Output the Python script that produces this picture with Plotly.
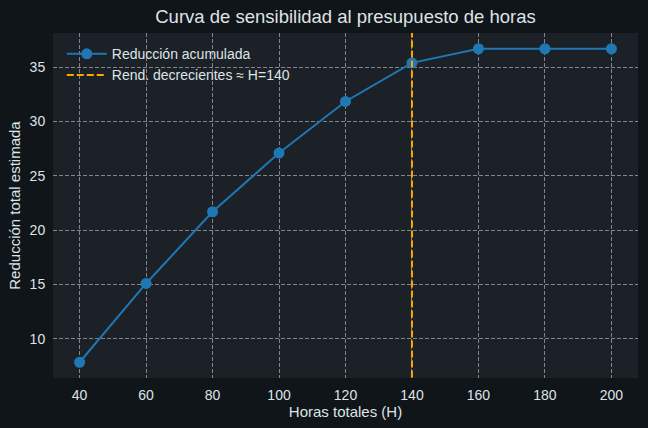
import plotly.graph_objects as go

horas = [40, 60, 80, 100, 120, 140, 160, 180, 200]
reduccion = [7.85, 15.1, 21.7, 27.1, 31.85, 35.4, 36.7, 36.7, 36.7]
h_codo = 140
x_ticks = [40, 60, 80, 100, 120, 140, 160, 180, 200]
y_ticks = [10, 15, 20, 25, 30, 35]

paper_bg = "#0f1519"
plot_bg = "#1b2127"
text_c = "#dfe3e6"
grid_c = "#80868b"
font = "Liberation Sans, Arial, sans-serif"

fig = go.Figure()
fig.add_trace(go.Scatter(
    x=horas, y=reduccion, mode="lines+markers", name="Reducción acumulada",
    line=dict(color="#1f77b4", width=2), marker=dict(size=11, color="#1f77b4"),
))
fig.add_trace(go.Scatter(
    x=[h_codo, h_codo], y=[0, 100], mode="lines", name="Rend. decrecientes ≈ H=140",
    line=dict(color="#ffa500", width=2, dash="7px,3px"),
))

fig.update_layout(
    width=648, height=428,
    margin=dict(l=53, r=10, t=33, b=50),
    paper_bgcolor=paper_bg, plot_bgcolor=plot_bg,
    font=dict(family=font, color=text_c, size=14),
    title=dict(text="Curva de sensibilidad al presupuesto de horas", x=0.5, xanchor="center",
               xref="paper", y=1 - 17 / 428, yanchor="middle",
               font=dict(size=18.5, color=text_c)),
    showlegend=True,
    legend=dict(x=0.015, y=0.985, xanchor="left", yanchor="top", bgcolor="rgba(0,0,0,0)",
                font=dict(size=14, color=text_c), tracegroupgap=0, itemwidth=40),
    xaxis=dict(range=[32, 208], tickvals=x_ticks, showgrid=True, gridcolor=grid_c,
               griddash="4px,2px", gridwidth=1, zeroline=False, showline=False,
               ticks="outside", ticklen=4, tickcolor=paper_bg, tickfont=dict(size=14),
               title=dict(text="Horas totales (H)", font=dict(size=15), standoff=4)),
    yaxis=dict(range=[6.4, 38.15], tickvals=y_ticks, showgrid=True, gridcolor=grid_c,
               griddash="4px,2px", gridwidth=1, zeroline=False, showline=False,
               ticks="outside", ticklen=4, tickcolor=paper_bg, tickfont=dict(size=14),
               title=dict(text="Reducción total estimada", font=dict(size=15), standoff=5)),
)

fig.write_html("out.html", config={"displayModeBar": False},
               post_script="document.body.style.margin='0';")
